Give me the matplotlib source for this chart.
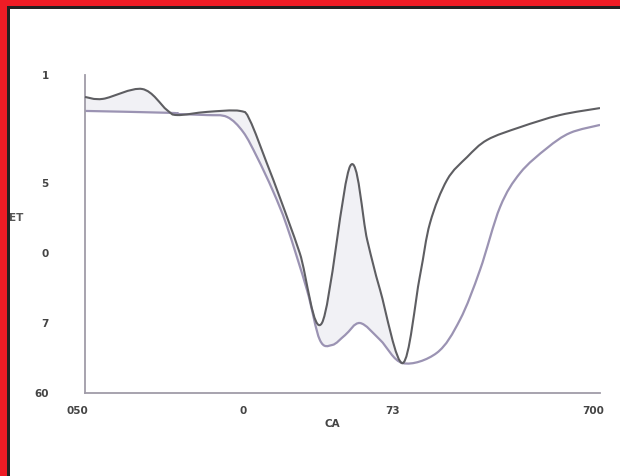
import numpy as np
import matplotlib
matplotlib.use("Agg")
import matplotlib.pyplot as plt
from matplotlib.path import Path
from matplotlib.patches import PathPatch, Rectangle

# ---- data ----
upper_x = [0.0, 3.5, 11.1, 15.9, 17.9, 23.7, 30.1, 32.0, 35.3, 37.9, 41.7, 46.0,
           51.5, 54.8, 57.3, 61.7, 65.0, 67.0, 70.3, 74.2, 78.1, 84.5, 92.2, 100.0]
upper_y = [93.1, 92.5, 95.6, 89.0, 87.4, 88.4, 88.7, 85.8, 72.3, 61.2, 44.0, 22.0,
           71.4, 48.1, 32.4, 9.4, 36.5, 53.5, 67.0, 74.2, 79.6, 83.6, 87.4, 89.6]

lower_x = [0.0, 16.5, 18.4, 23.7, 27.6, 30.7, 33.4, 36.5, 39.2, 43.1, 45.6, 48.0,
           50.5, 53.4, 57.3, 61.7, 68.3, 72.8, 76.7, 80.6, 84.5, 89.7, 94.2, 100.0]
lower_y = [88.7, 88.1, 87.7, 87.4, 86.8, 82.1, 74.2, 63.5, 52.5, 32.4, 16.7, 15.1,
           18.2, 22.0, 16.7, 9.4, 12.6, 23.0, 38.7, 58.5, 69.2, 77.0, 81.8, 84.3]

x_ticks = [-1.5, 30.7, 59.8, 98.6]
x_tick_labels = ["050", "0", "73", "700"]
y_ticks = [0, 22, 44, 66, 100]
y_tick_labels = ["60", "7", "0", "5", "1"]
x_label = "CA"
y_label = "ET"
meet_x = 61.7


def bezier_vertices(x, y):
    """Catmull-Rom style smooth path through the points (as cubic Bezier)."""
    p = np.column_stack([np.asarray(x, float), np.asarray(y, float)])
    n = len(p)
    verts = [tuple(p[0])]
    for i in range(n - 1):
        p0 = p[i - 1] if i > 0 else p[i]
        p1 = p[i]
        p2 = p[i + 1]
        p3 = p[i + 2] if i + 2 < n else p[i + 1]
        c1 = p1 + (p2 - p0) / 6.0
        c2 = p2 - (p3 - p1) / 6.0
        verts += [tuple(c1), tuple(c2), tuple(p2)]
    return verts


def line_path(verts):
    codes = [Path.MOVETO] + [Path.CURVE4] * (len(verts) - 1)
    return Path(verts, codes)


W, H = 620, 476
fig = plt.figure(figsize=(W / 100, H / 100), dpi=100)

# frame decoration
fig.patches.append(Rectangle((0, 0), 7 / W, 1, transform=fig.transFigure,
                             facecolor="#ee1c25", edgecolor="none", zorder=0))
fig.patches.append(Rectangle((0, 1 - 6 / H), 1, 6 / H, transform=fig.transFigure,
                             facecolor="#ee1c25", edgecolor="none", zorder=0))
fig.patches.append(Rectangle((7 / W, 0), 2.5 / W, 1 - 6 / H, transform=fig.transFigure,
                             facecolor="#222222", edgecolor="none", zorder=0))
fig.patches.append(Rectangle((7 / W, 1 - 8.5 / H), 1, 2.5 / H, transform=fig.transFigure,
                             facecolor="#222222", edgecolor="none", zorder=0))

x0_px, x100_px = 85, 600
y0_px, y100_px = 393, 75
sx = (x100_px - x0_px) / 100.0
left_px = x0_px - 2.5 * sx
ax = fig.add_axes([left_px / W, (H - y0_px) / H, (x100_px - left_px) / W, (y0_px - y100_px) / H])
ax.set_xlim(-2.5, 100)
ax.set_ylim(0, 100)
ax.set_facecolor("none")

for s in ["top", "right"]:
    ax.spines[s].set_visible(False)
ax.spines["left"].set_position(("data", 0))
ax.spines["bottom"].set_bounds(0, 100)
for s in ["left", "bottom"]:
    ax.spines[s].set_color("#a09ca8")
    ax.spines[s].set_linewidth(1.3)

ua = bezier_vertices(upper_x, upper_y)
lb = bezier_vertices(lower_x, lower_y)

ia = upper_x.index(meet_x)
ib = lower_x.index(meet_x)
fa = ua[:1 + 3 * ia]
fb = lb[:1 + 3 * ib][::-1]
fverts = fa + fb + [fa[0]]
fcodes = ([Path.MOVETO] + [Path.CURVE4] * (3 * ia) + [Path.LINETO] +
          [Path.CURVE4] * (3 * ib) + [Path.CLOSEPOLY])
ax.add_patch(PathPatch(Path(fverts, fcodes), facecolor="#f1f1f5", edgecolor="none", zorder=1))

ax.add_patch(PathPatch(line_path(lb), facecolor="none", edgecolor="#9b93b3", lw=1.6, zorder=2))
ax.add_patch(PathPatch(line_path(ua), facecolor="none", edgecolor="#5e5e62", lw=1.5, zorder=3))

ax.set_xticks(x_ticks)
ax.set_xticklabels(x_tick_labels)
ax.set_yticks(y_ticks)
ax.set_yticklabels(y_tick_labels)
ax.tick_params(axis="x", length=0, pad=9, labelsize=7.5, labelcolor="#444444")
ax.tick_params(axis="y", length=0, pad=26, labelsize=7.5, labelcolor="#444444")
for lab in ax.get_xticklabels() + ax.get_yticklabels():
    lab.set_fontweight("bold")

fig.text(16 / W, 1 - 218 / H, y_label, ha="center", va="center", fontsize=7.5,
         fontweight="bold", color="#555555")
fig.text(332 / W, 1 - 424 / H, x_label, ha="center", va="center", fontsize=7.5,
         fontweight="bold", color="#444444")

fig.savefig("out.png", dpi=100)
